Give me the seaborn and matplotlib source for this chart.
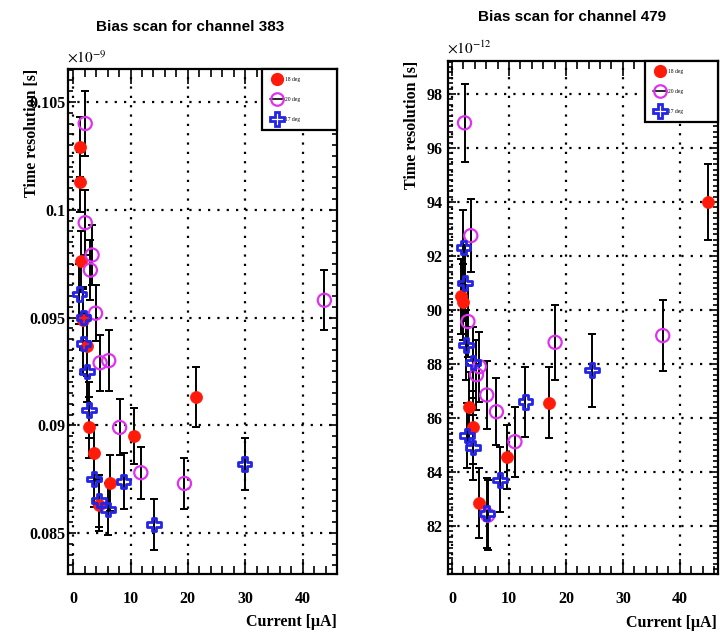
import matplotlib
matplotlib.use("Agg")
import matplotlib.pyplot as plt
from matplotlib.lines import Line2D
from matplotlib.ticker import MultipleLocator, FuncFormatter
import numpy as np
import pandas as pd
import seaborn as sns

# ---- channel 383 (time resolution in units of 1e-9 s) ----
ch383_18_current = [1.2, 1.2, 1.3, 1.8, 2.4, 2.8, 3.6, 4.5, 6.5, 10.6, 21.5]
ch383_18_res = [0.1029, 0.1013, 0.0976, 0.0949, 0.0937, 0.0899, 0.0887, 0.0863, 0.0873, 0.0895, 0.0913]
ch383_18_err = [0.0014, 0.0014, 0.0014, 0.0014, 0.0014, 0.0014, 0.0013, 0.0012, 0.0013, 0.0013, 0.0014]

ch383_20_current = [2.1, 2.1, 3.0, 3.3, 3.9, 4.7, 6.2, 8.1, 11.8, 19.4, 43.8]
ch383_20_res = [0.1040, 0.0994, 0.0972, 0.0979, 0.0952, 0.0929, 0.0930, 0.0899, 0.0878, 0.0873, 0.0958]
ch383_20_err = [0.0015, 0.0015, 0.0014, 0.0014, 0.0013, 0.0013, 0.0014, 0.0013, 0.0012, 0.0012, 0.0014]

ch383_17_current = [1.1, 1.8, 1.8, 2.4, 2.8, 3.6, 4.5, 6.1, 8.8, 14.1, 29.9]
ch383_17_res = [0.0961, 0.0950, 0.0938, 0.0925, 0.0907, 0.0875, 0.0865, 0.0861, 0.0874, 0.0854, 0.0882]
ch383_17_err = [0.0014, 0.0014, 0.0014, 0.0014, 0.0013, 0.0013, 0.0012, 0.0012, 0.0013, 0.0012, 0.0012]

# ---- channel 479 (time resolution in units of 1e-12 s) ----
ch479_18_current = [1.5, 1.9, 2.9, 3.7, 4.8, 9.6, 17.1, 45.0]
ch479_18_res = [90.5, 90.3, 86.4, 85.65, 82.85, 84.55, 86.57, 94.0]
ch479_18_err = [1.4, 1.4, 1.3, 1.35, 1.3, 1.2, 1.3, 1.4]

ch479_20_current = [2.2, 3.3, 2.8, 4.3, 4.8, 6.1, 7.8, 11.05, 18.1, 37.0, 6.3]
ch479_20_res = [96.93, 92.75, 89.57, 87.6, 87.9, 86.85, 86.23, 85.12, 88.8, 89.05, 82.4]
ch479_20_err = [1.45, 1.35, 1.3, 1.3, 1.3, 1.25, 1.25, 1.3, 1.4, 1.3, 1.3]

ch479_17_current = [2.0, 2.3, 2.45, 3.7, 2.6, 3.7, 6.1, 8.4, 12.9, 24.6]
ch479_17_res = [92.32, 91.0, 88.7, 88.05, 85.35, 84.9, 82.47, 83.71, 86.6, 87.77]
ch479_17_err = [1.4, 1.4, 1.3, 1.3, 1.2, 1.2, 1.3, 1.2, 1.3, 1.35]

temps = ["18 deg", "20 deg", "17 deg"]
titles = ["Bias scan for channel 383", "Bias scan for channel 479"]
exponents = [r"$\times10^{-9}$", r"$\times10^{-12}$"]
x_label = "Current [\u03bcA]"
y_label = "Time resolution [s]"


def frame(current, res, err, temp):
    return pd.DataFrame({"current": current, "res": res, "err": err, "temp": temp})


df383 = pd.concat([
    frame(ch383_18_current, ch383_18_res, ch383_18_err, temps[0]),
    frame(ch383_20_current, ch383_20_res, ch383_20_err, temps[1]),
    frame(ch383_17_current, ch383_17_res, ch383_17_err, temps[2]),
], ignore_index=True)

df479 = pd.concat([
    frame(ch479_18_current, ch479_18_res, ch479_18_err, temps[0]),
    frame(ch479_20_current, ch479_20_res, ch479_20_err, temps[1]),
    frame(ch479_17_current, ch479_17_res, ch479_17_err, temps[2]),
], ignore_index=True)

RED = "#ff1a0a"
MAGENTA = "#dd33ee"
BLUE = "#2424e6"

marker_style = {
    "18 deg": dict(marker="o", s=75, color=RED, edgecolor=RED, linewidth=0.5),
    "20 deg": dict(marker="o", s=90, facecolor="none", edgecolor=MAGENTA, linewidth=1.6),
    "17 deg": dict(marker="P", s=95, facecolor="none", edgecolor=BLUE, linewidth=2.0),
}

sns.set_theme(style="white")
plt.rcParams.update({
    "font.family": ["Liberation Serif", "DejaVu Serif"],
    "mathtext.fontset": "stix",
    "axes.edgecolor": "black",
    "axes.labelcolor": "black",
    "text.color": "black",
    "xtick.color": "black",
    "ytick.color": "black",
})

fig = plt.figure(figsize=(7.2, 6.32), dpi=100)
ax_left = fig.add_axes([68 / 720, 1 - 574 / 632, 269 / 720, 505 / 632])
ax_right = fig.add_axes([448 / 720, 1 - 574 / 632, 270 / 720, 513 / 632])

panels = [
    dict(ax=ax_left, df=df383, xlim=(-0.9, 46.0), ylim=(0.0831, 0.10653),
         ymajor=0.005, yminor=0.0005, ypad=2.0, title_xy=(190, 27),
         exp_xy=(67, 63), leg_x0=0.721, xlab_x=1.0),
    dict(ax=ax_right, df=df479, xlim=(-0.7, 46.7), ylim=(80.22, 99.22),
         ymajor=2.0, yminor=0.2, ypad=4.0, title_xy=(572, 17),
         exp_xy=(447, 54), leg_x0=0.73, xlab_x=0.996),
]

tick_font = dict(family="Liberation Serif", weight="bold", size=11.5)

for i, p in enumerate(panels):
    ax = p["ax"]
    df = p["df"]

    for temp in temps:
        sub = df[df["temp"] == temp]
        ax.errorbar(sub["current"], sub["res"], yerr=sub["err"], fmt="none",
                    ecolor="black", elinewidth=1.4, capsize=3.2, capthick=1.4,
                    zorder=2)
    for temp in temps:
        sub = df[df["temp"] == temp]
        sns.scatterplot(data=sub, x="current", y="res", ax=ax, legend=False,
                        zorder=3, **marker_style[temp])

    ax.set_xlim(*p["xlim"])
    ax.set_ylim(*p["ylim"])
    ax.xaxis.set_major_locator(MultipleLocator(10))
    ax.xaxis.set_minor_locator(MultipleLocator(2))
    ax.yaxis.set_major_locator(MultipleLocator(p["ymajor"]))
    ax.yaxis.set_minor_locator(MultipleLocator(p["yminor"]))
    ax.yaxis.set_major_formatter(FuncFormatter(lambda v, pos: f"{v:.4g}"))
    ax.xaxis.set_major_formatter(FuncFormatter(lambda v, pos: f"{v:.0f}"))

    ax.grid(True, which="major", color="black", linestyle=(0, (1, 3.2)),
            linewidth=1.6)
    ax.set_axisbelow(True)
    for sp in ax.spines.values():
        sp.set_visible(True)
        sp.set_color("black")
        sp.set_linewidth(1.6)

    ax.tick_params(which="both", direction="in", top=True, right=True,
                   bottom=True, left=True, width=1.2, color="black")
    ax.tick_params(axis="x", which="major", length=11, pad=12)
    ax.tick_params(axis="x", which="minor", length=5.5)
    ax.tick_params(axis="y", which="major", length=6, pad=p["ypad"])
    ax.tick_params(axis="y", which="minor", length=3.5)
    for lab in ax.get_xticklabels() + ax.get_yticklabels():
        lab.set_fontproperties(tick_font)

    ax.set_xlabel(x_label, loc="right", fontsize=11.5, fontweight="bold")
    ax.xaxis.set_label_coords(p["xlab_x"], -0.08)
    ax.set_ylabel(y_label, loc="top", fontsize=11.5, fontweight="bold")
    ax.yaxis.set_label_coords(-0.104, 1.0)

    fig.text(p["title_xy"][0] / 720, 1 - p["title_xy"][1] / 632, titles[i],
             ha="center", va="center", family="Liberation Sans",
             weight="bold", size=11)
    fig.text(p["exp_xy"][0] / 720, 1 - p["exp_xy"][1] / 632, exponents[i],
             ha="left", va="baseline", size=11)

    handles = [
        Line2D([], [], linestyle="none", marker="o", markersize=8.5,
               markerfacecolor=RED, markeredgecolor=RED),
        Line2D([], [], color="black", linewidth=1.2, marker="o", markersize=9,
               markerfacecolor="none", markeredgecolor=MAGENTA,
               markeredgewidth=1.6),
        Line2D([], [], linestyle="none", marker="P", markersize=9.5,
               markerfacecolor="none", markeredgecolor=BLUE,
               markeredgewidth=2.0),
    ]
    leg = ax.legend(handles, temps, loc="upper left",
                    bbox_to_anchor=(p["leg_x0"], 0.0, 1 - p["leg_x0"], 1.0),
                    mode="expand", borderaxespad=0.0, fontsize=4,
                    labelspacing=2.7, borderpad=1.4, handlelength=2.5,
                    handletextpad=0.3, fancybox=False, framealpha=1.0,
                    edgecolor="black")
    leg.get_frame().set_linewidth(1.6)
    leg.set_zorder(5)

fig.savefig("out.png", dpi=100)
